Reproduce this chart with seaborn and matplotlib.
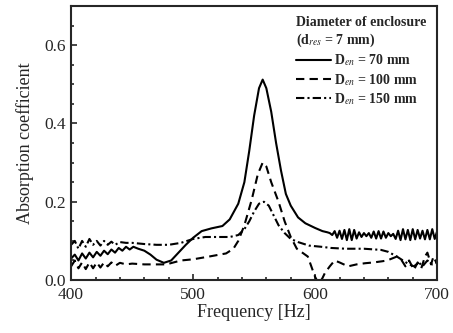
import matplotlib
matplotlib.use("Agg")
import matplotlib.pyplot as plt
import seaborn as sns
import pandas as pd
from matplotlib.ticker import MultipleLocator

# ---- data ----
f70 = [400, 403, 406, 409, 412, 415, 418, 421, 424, 427, 430, 433, 436, 439, 442, 445, 448, 451, 455,
       460, 465, 470, 476, 482, 488, 494, 500, 507, 515, 524, 530, 537, 542, 546, 550, 554, 557, 560,
       564, 568, 572, 576, 580, 586, 592, 600, 606, 610,
       612, 614, 616, 618, 620, 622, 624, 626, 628, 630, 632, 634, 636, 638, 640, 642, 644, 646, 648,
       650, 652, 654, 656, 658, 660, 662, 664, 666, 668, 670, 672, 674, 676, 678, 680, 682, 684, 686,
       688, 690, 692, 694, 696, 698, 700]
a70 = [0.055, 0.065, 0.050, 0.068, 0.055, 0.070, 0.058, 0.072, 0.062, 0.075, 0.066, 0.078, 0.070, 0.082,
       0.075, 0.085, 0.078, 0.085, 0.080, 0.075, 0.065, 0.052, 0.044, 0.050, 0.070, 0.090, 0.108, 0.125,
       0.132, 0.138, 0.155, 0.195, 0.250, 0.330, 0.420, 0.490, 0.512, 0.490, 0.430, 0.350, 0.280, 0.220,
       0.190, 0.160, 0.145, 0.133, 0.125, 0.122,
       0.120, 0.115, 0.125, 0.108, 0.126, 0.105, 0.128, 0.102, 0.130, 0.102, 0.128, 0.106, 0.122, 0.110,
       0.120, 0.112, 0.120, 0.108, 0.124, 0.106, 0.125, 0.106, 0.124, 0.108, 0.120, 0.112, 0.118, 0.105,
       0.126, 0.102, 0.130, 0.104, 0.128, 0.102, 0.130, 0.104, 0.128, 0.106, 0.126, 0.104, 0.128, 0.104,
       0.130, 0.105, 0.125]

f100 = [400, 403, 406, 409, 412, 415, 418, 421, 424, 427, 430, 433, 436, 440, 445, 450, 460, 470, 478,
        490, 500, 513, 527, 533, 537, 542, 548, 553, 557, 560, 564, 570, 575, 580, 585, 594, 598, 600,
        603, 606, 608, 612, 616, 620, 627, 634, 641, 648, 655, 659, 663, 667, 671, 674, 677, 681, 684,
        687, 690, 692, 695, 697, 700]
a100 = [0.035, 0.050, 0.030, 0.045, 0.028, 0.045, 0.030, 0.045, 0.032, 0.045, 0.035, 0.045, 0.036, 0.044,
        0.040, 0.042, 0.040, 0.040, 0.040, 0.050, 0.053, 0.060, 0.068, 0.080, 0.100, 0.140, 0.205, 0.270,
        0.300, 0.290, 0.250, 0.200, 0.150, 0.110, 0.080, 0.060, 0.025, 0.008, -0.010, 0.005, 0.018, 0.035,
        0.050, 0.045, 0.035, 0.040, 0.043, 0.045, 0.048, 0.050, 0.055, 0.060, 0.050, 0.035, 0.050, 0.026,
        0.045, 0.030, 0.060, 0.070, 0.040, 0.060, 0.040]

f150 = [400, 403, 406, 409, 412, 415, 418, 421, 424, 427, 430, 433, 436, 440, 445, 450, 460, 470, 480,
        490, 500, 510, 520, 530, 537, 542, 546, 550, 554, 558, 562, 566, 570, 575, 580, 586, 595, 605,
        613, 625, 640, 654, 660, 667, 672, 677, 681, 685, 688, 692, 696, 700]
a150 = [0.090, 0.100, 0.080, 0.100, 0.085, 0.105, 0.090, 0.100, 0.088, 0.100, 0.090, 0.098, 0.090, 0.097,
        0.095, 0.095, 0.092, 0.090, 0.090, 0.095, 0.105, 0.110, 0.110, 0.110, 0.115, 0.130, 0.150, 0.175,
        0.195, 0.200, 0.190, 0.165, 0.140, 0.120, 0.105, 0.097, 0.088, 0.085, 0.082, 0.080, 0.080, 0.077,
        0.072, 0.060, 0.050, 0.040, 0.035, 0.045, 0.035, 0.050, 0.040, 0.045]

labels = ["D$_{en}$ = 70 mm", "D$_{en}$ = 100 mm", "D$_{en}$ = 150 mm"]
x_ticks = [400, 500, 600, 700]
y_ticks = [0.0, 0.2, 0.4, 0.6]

sns.set_style("ticks")
plt.rcParams["font.family"] = ["Liberation Serif", "DejaVu Serif"]
plt.rcParams["mathtext.fontset"] = "stix"

fig = plt.figure(figsize=(4.53, 3.33), dpi=100)
ax = fig.add_axes([0.157, 0.159, 0.808, 0.823])

styles = ["-", (0, (4, 2.5)), (0, (4, 1.5, 1, 1.5))]
for f, a, lab, ls in zip([f70, f100, f150], [a70, a100, a150], labels, styles):
    df = pd.DataFrame({"Frequency": f, "Absorption": a})
    sns.lineplot(data=df, x="Frequency", y="Absorption", ax=ax, color="black",
                 linewidth=1.5, linestyle=ls, label=lab, sort=False, estimator=None)

ax.set_xlim(400, 700)
ax.set_ylim(0, 0.70)
ax.set_xticks(x_ticks)
ax.set_xticklabels([str(v) for v in x_ticks])
ax.set_yticks(y_ticks)
ax.set_yticklabels([f"{v:.1f}" for v in y_ticks])
ax.xaxis.set_minor_locator(MultipleLocator(20))
ax.yaxis.set_minor_locator(MultipleLocator(0.05))
ax.tick_params(which="both", direction="in", top=False, right=False, labelsize=12.5, width=1.2)
ax.tick_params(which="major", length=4)
ax.tick_params(axis="x", which="major", pad=5)
ax.tick_params(which="minor", length=2.5)
for s in ax.spines.values():
    s.set_linewidth(1.5)
    s.set_visible(True)

ax.set_xlabel("Frequency [Hz]", fontsize=13, labelpad=1)
ax.set_ylabel("Absorption coefficient", fontsize=13, labelpad=8)

leg = ax.legend(title="Diameter of enclosure\n(d$_{res}$ = 7 mm)", loc="upper right",
                frameon=False, handlelength=2.5,
                handletextpad=0.2, labelspacing=0.25, borderaxespad=0.35,
                prop={"weight": "bold", "size": 10}, title_fontsize=10)
leg._legend_box.align = "left"
leg.get_title().set_fontweight("bold")

fig.savefig("out.png", dpi=100)
